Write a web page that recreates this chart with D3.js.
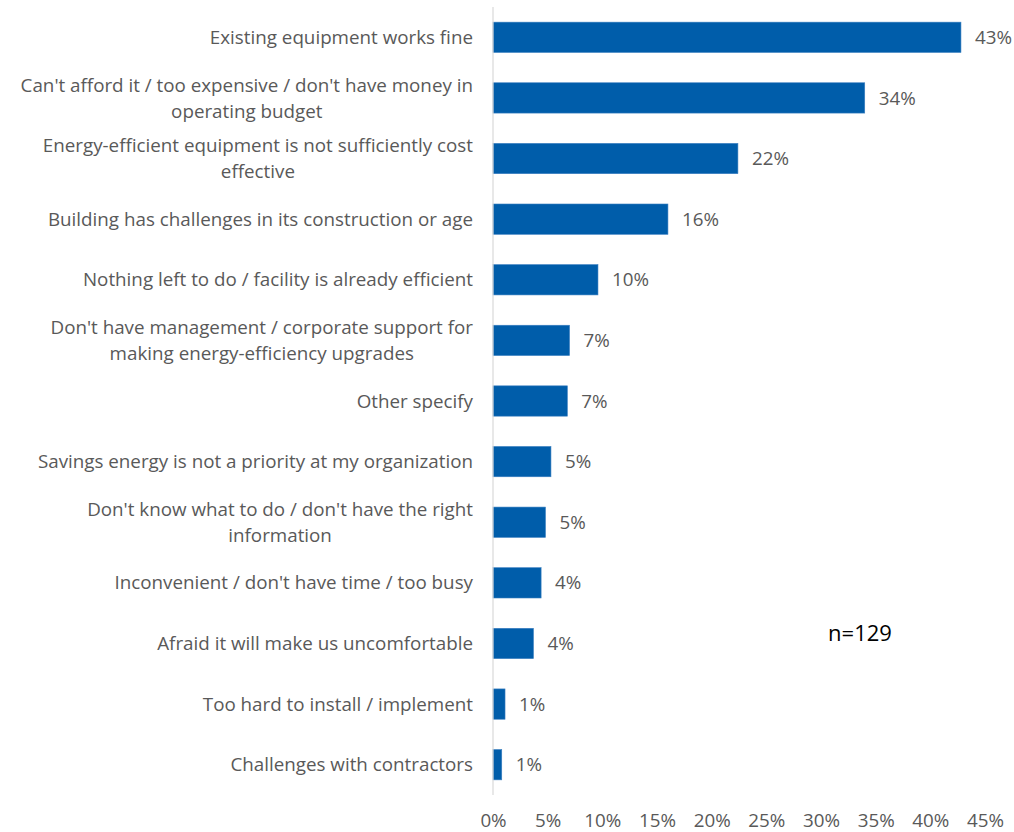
<!DOCTYPE html>
<html>
<head>
<meta charset="utf-8">
<script src="https://cdn.jsdelivr.net/npm/d3@7"></script>
<style>
  html, body { margin: 0; padding: 0; background: #fff; }
  svg { display: block; font-family: "Open Sans", "Noto Sans", sans-serif; }
</style>
</head>
<body>
<svg id="chart" width="1014" height="832"></svg>
<script>
// Reasons for not upgrading to energy-efficient equipment (share of respondents)
const categories = [
  "Existing equipment works fine",
  "Can't afford it / too expensive / don't have money in\noperating budget",
  "Energy-efficient equipment is not sufficiently cost\neffective",
  "Building has challenges in its construction or age",
  "Nothing left to do / facility is already efficient",
  "Don't have management / corporate support for\nmaking energy-efficiency upgrades",
  "Other specify",
  "Savings energy is not a priority at my organization",
  "Don't know what to do / don't have the right\ninformation",
  "Inconvenient / don't have time / too busy",
  "Afraid it will make us uncomfortable",
  "Too hard to install / implement",
  "Challenges with contractors"
];
const values = [42.8, 34.0, 22.4, 16.0, 9.6, 7.0, 6.8, 5.3, 4.8, 4.4, 3.7, 1.1, 0.8];
const tickValues = [0, 5, 10, 15, 20, 25, 30, 35, 40, 45];
const sampleNote = "n=129";

const svg = d3.select("#chart");
const margin = { top: 7, right: 29, bottom: 37, left: 493 };
const height = 832 - margin.top - margin.bottom;

const g = svg.append("g").attr("transform", `translate(${margin.left},${margin.top})`);

const x = d3.scaleLinear().domain([0, 45]).range([0, 492]);
const y = d3.scaleBand().domain(categories).range([0, height]).paddingInner(0.5).paddingOuter(0.25);

const rows = categories.map((c, i) => ({ c, v: values[i] }));
const fontSize = "18.8px";

// bars
g.selectAll("rect.bar").data(rows).join("rect")
  .attr("class", "bar")
  .attr("x", x(0))
  .attr("y", d => y(d.c))
  .attr("width", d => x(d.v) - x(0))
  .attr("height", y.bandwidth())
  .attr("fill", "#005DAA")
  .attr("stroke", "#3A7FC0")
  .attr("stroke-width", 0.6);

// value labels
g.selectAll("text.val").data(rows).join("text")
  .attr("class", "val")
  .attr("x", d => x(d.v) + 14)
  .attr("y", d => y(d.c) + y.bandwidth() / 2)
  .attr("dy", "0.35em")
  .attr("fill", "#595959")
  .style("font-size", fontSize)
  .text(d => Math.round(d.v) + "%");

// category axis (vertical line + wrapped labels)
g.append("line")
  .attr("x1", 0).attr("x2", 0)
  .attr("y1", 0).attr("y2", height)
  .attr("stroke", "#D9D9D9").attr("stroke-width", 1.2);

const labelGap = 20;
const lineH = 26;
const catLabels = g.selectAll("g.cat").data(rows).join("g")
  .attr("class", "cat")
  .attr("transform", d => `translate(${-labelGap},${y(d.c) + y.bandwidth() / 2})`);

catLabels.each(function(d) {
  const lines = d.c.split("\n");
  const grp = d3.select(this);
  const texts = grp.selectAll("text").data(lines).join("text")
    .attr("fill", "#595959")
    .style("font-size", fontSize)
    .attr("dy", "0.35em")
    .attr("y", (l, i) => (i - (lines.length - 1) / 2) * lineH)
    .text(l => l);
  if (lines.length === 1) {
    texts.attr("text-anchor", "end").attr("x", 0);
  } else {
    // multi-line labels: block right-aligned, lines centred within the block
    const w = d3.max(texts.nodes(), n => n.getComputedTextLength());
    texts.attr("text-anchor", "middle").attr("x", -w / 2);
  }
});

// value axis tick labels
const xAxis = d3.axisBottom(x).tickValues(tickValues).tickFormat(d => d + "%").tickSize(0).tickPadding(0);
const ax = g.append("g").attr("transform", `translate(0,${height + 25})`).call(xAxis);
ax.select(".domain").remove();
ax.selectAll("text")
  .attr("fill", "#595959")
  .attr("dy", "0.35em")
  .style("font-size", fontSize)
  .style("font-family", "\"Open Sans\", \"Noto Sans\", sans-serif");

// sample size note
svg.append("text")
  .attr("x", 860).attr("y", 633)
  .attr("dy", "0.35em")
  .attr("text-anchor", "middle")
  .attr("fill", "#000")
  .style("font-size", "22px")
  .text(sampleNote);
</script>
</body>
</html>
